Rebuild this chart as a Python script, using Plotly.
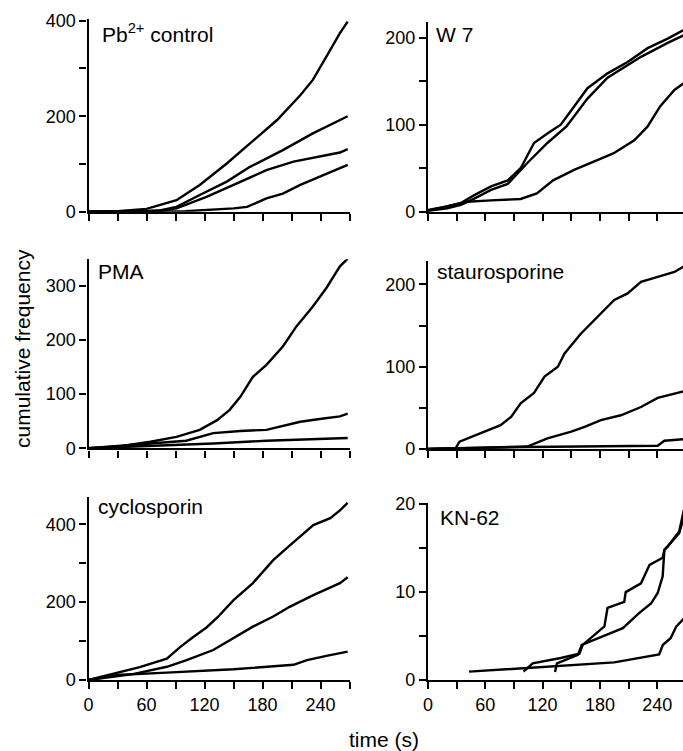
import plotly.graph_objects as go

# ---------------- data ----------------
panel_titles = ["Pb<sup>2+</sup> control", "W 7", "PMA", "staurosporine", "cyclosporin", "KN-62"]

x_tickvals = [0, 30, 60, 90, 120, 150, 180, 210, 240, 270]
x_ticktext = ["0", "", "60", "", "120", "", "180", "", "240", ""]

# Pb2+ control
pb_t1 = [0, 8, 30, 60, 91, 115, 143, 167, 195, 219, 232, 246, 260, 268]
pb_v1 = [0, 0, 1, 6, 24, 56, 101, 143, 192, 244, 276, 325, 374, 398]
pb_t2 = [0, 60, 75, 91, 115, 143, 167, 201, 232, 260, 268]
pb_v2 = [0, 1, 3, 10, 35, 63, 94, 129, 164, 192, 200]
pb_t3 = [0, 60, 75, 91, 122, 150, 184, 212, 239, 260, 268]
pb_v3 = [0, 1, 2, 7, 31, 56, 87, 105, 115, 124, 131]
pb_t4 = [0, 100, 150, 164, 184, 201, 219, 239, 260, 268]
pb_v4 = [0, 1, 7, 10, 28, 38, 56, 73, 91, 98]

# W 7
w7_t1 = [0, 20, 34.5, 48.5, 66, 83.5, 97, 111, 125, 139, 153, 167, 188, 209, 230, 251, 268]
w7_v1 = [2, 6, 10, 19, 29, 36, 50, 79, 90, 100, 121, 142, 159, 172, 188, 199, 209]
w7_t2 = [0, 20, 34.5, 48.5, 66, 83.5, 104, 125, 145, 167, 188, 223, 251, 268]
w7_v2 = [1, 4, 8, 15, 25, 32, 56, 79, 98, 130, 154, 178, 194, 203]
w7_t3 = [0, 20, 41.5, 66, 97, 114, 131, 153, 173, 194, 216, 230, 243, 258, 268]
w7_v3 = [1, 6, 11.5, 13, 14.6, 21, 36, 48, 57, 67, 82, 98, 121, 140, 148]

# PMA
pma_t1 = [0, 33, 64, 91, 115, 133, 146, 157, 170, 184, 201, 215, 232, 246, 260, 268]
pma_v1 = [0, 4, 12, 21, 34, 52, 71, 95, 132, 154, 188, 225, 262, 296, 336, 350]
pma_t2 = [0, 64, 101, 129, 157, 184, 198, 219, 239, 260, 268]
pma_v2 = [0, 9, 14, 28, 32, 34, 40, 49, 54, 59, 64]
pma_t3 = [0, 64, 101, 129, 184, 239, 268]
pma_v3 = [0, 4, 6, 9, 14, 18, 19]

# staurosporine
st_t1 = [0, 29, 33, 55.5, 76, 87, 97, 111, 122, 136, 143, 160, 178, 195, 209, 223, 240.5, 258, 268]
st_v1 = [0, 1, 9, 19, 29, 39, 55.5, 68, 88, 100, 116, 140, 161, 181, 189, 203, 209, 215, 222]
st_t2 = [0, 104, 125, 150, 164, 181, 202, 223, 240.5, 268]
st_v2 = [0, 3, 13, 21, 27, 35, 41, 51, 62, 70]
st_t3 = [0, 104, 240.5, 247.5, 268]
st_v3 = [0, 2.5, 4, 10, 12]

# cyclosporin
cy_t1 = [0, 29, 53, 81, 95, 108, 122, 133, 150, 170, 191, 205, 219, 232.5, 250, 260, 268]
cy_v1 = [0, 17, 33, 55, 85, 110, 135, 160, 205, 249, 308, 339, 368, 398, 416, 436, 455]
cy_t2 = [0, 46, 81, 101.5, 129, 150, 170, 191, 208, 232.5, 260, 268]
cy_v2 = [0, 15, 34, 51, 77, 107, 137, 163, 188, 218, 249, 264]
cy_t3 = [0, 29, 81, 150, 212, 226, 246, 260, 268]
cy_v3 = [0, 13, 19, 27.5, 39, 51, 62, 69, 73]

# KN-62
kn_t1 = [43, 195, 242, 246, 254, 260, 268]
kn_v1 = [0.95, 2.0, 2.9, 4.0, 4.75, 6.1, 7.0]
kn_t2 = [100, 109.6, 139, 158.5, 162, 172, 184.7, 188, 205.5, 207, 223, 232, 245.7, 247.5, 251, 263, 268]
kn_v2 = [0.95, 1.9, 2.5, 3.0, 4.0, 4.9, 6.1, 8.2, 8.9, 10, 11, 13.1, 13.9, 14.8, 15.2, 16.7, 18.6]
kn_t3 = [133, 135, 157, 161, 204, 221, 233.5, 240.5, 245.7, 247.5, 251, 263, 268]
kn_v3 = [0.9, 1.9, 2.85, 4, 5.9, 7.6, 8.7, 9.9, 11.8, 14.8, 15.2, 16.9, 19.4]

panels = [
    [(pb_t1, pb_v1), (pb_t2, pb_v2), (pb_t3, pb_v3), (pb_t4, pb_v4)],
    [(w7_t1, w7_v1), (w7_t2, w7_v2), (w7_t3, w7_v3)],
    [(pma_t1, pma_v1), (pma_t2, pma_v2), (pma_t3, pma_v3)],
    [(st_t1, st_v1), (st_t2, st_v2), (st_t3, st_v3)],
    [(cy_t1, cy_v1), (cy_t2, cy_v2), (cy_t3, cy_v3)],
    [(kn_t1, kn_v1), (kn_t2, kn_v2), (kn_t3, kn_v3)],
]

y_tickvals = [
    [0, 100, 200, 300, 400],
    [0, 50, 100, 150, 200],
    [0, 100, 200, 300],
    [0, 50, 100, 150, 200],
    [0, 100, 200, 300, 400],
    [0, 5, 10, 15, 20],
]
y_ticktext = [
    ["0", "", "200", "", "400"],
    ["0", "", "100", "", "200"],
    ["0", "100", "200", "300"],
    ["0", "", "100", "", "200"],
    ["0", "", "200", "", "400"],
    ["0", "", "10", "", "20"],
]

# ---------------- layout geometry (pixels) ----------------
W, H = 683, 751
col_geom = [(88.5, 349.6, 270), (428.0, 683.0, 267)]
panel_y = [
    (211.7, 19.0, 403.6),
    (211.7, 21.7, 218.4),
    (448.3, 259.3, 349.0),
    (449.0, 260.7, 228.7),
    (680.0, 496.7, 471.0),
    (680.0, 503.3, 20.1),
]
title_pos = [(100, 33), (434, 34), (96, 271.5), (435, 271), (96, 506), (438, 517)]

FONT = "Arial, Liberation Sans, sans-serif"

fig = go.Figure()
layout = dict(
    width=W, height=H,
    margin=dict(l=0, r=0, t=0, b=0),
    paper_bgcolor="white", plot_bgcolor="white",
    showlegend=False,
    font=dict(family=FONT, color="black", size=18),
)
annotations = []
for i, series in enumerate(panels):
    n = i + 1
    col = i % 2
    x0, x1, xmax = col_geom[col]
    yb, yt, ymax = panel_y[i]
    xname = "x" if n == 1 else f"x{n}"
    yname = "y" if n == 1 else f"y{n}"
    for (t, v) in series:
        fig.add_trace(go.Scatter(x=t, y=v, mode="lines", xaxis=xname, yaxis=yname,
                                 line=dict(color="black", width=2.4), hoverinfo="skip"))
    bottom_row = i >= 4
    layout["xaxis" if n == 1 else f"xaxis{n}"] = dict(
        domain=[x0 / W, min(x1 / W, 1.0)], range=[0, xmax], anchor=yname,
        showline=True, linecolor="black", linewidth=2.4,
        ticks="outside", ticklen=7, tickwidth=2.2, tickcolor="black",
        tickvals=x_tickvals,
        ticktext=x_ticktext if bottom_row else [""] * len(x_tickvals),
        tickfont=dict(size=18, family=FONT, color="black"),
        showgrid=False, zeroline=False, automargin=False,
    )
    layout["yaxis" if n == 1 else f"yaxis{n}"] = dict(
        domain=[1 - yb / H, 1 - yt / H], range=[0, ymax], anchor=xname,
        showline=True, linecolor="black", linewidth=2.4,
        ticks="outside", ticklen=7, tickwidth=2.2, tickcolor="black",
        tickvals=y_tickvals[i], ticktext=y_ticktext[i],
        tickfont=dict(size=18, family=FONT, color="black"),
        showgrid=False, zeroline=False, automargin=False,
    )
    tx, ty = title_pos[i]
    annotations.append(dict(text=panel_titles[i], x=tx / W, y=1 - ty / H,
                            xref="paper", yref="paper", xanchor="left", yanchor="middle",
                            showarrow=False, font=dict(size=21, family=FONT, color="black")))

annotations.append(dict(text="cumulative frequency", x=22 / W, y=1 - 349 / H, xref="paper", yref="paper",
                        textangle=-90, showarrow=False, xanchor="center", yanchor="middle",
                        font=dict(size=21, family=FONT, color="black")))
annotations.append(dict(text="time (s)", x=384 / W, y=1 - 739 / H, xref="paper", yref="paper",
                        showarrow=False, xanchor="center", yanchor="middle",
                        font=dict(size=21, family=FONT, color="black")))
layout["annotations"] = annotations
fig.update_layout(**layout)
fig.write_html("out.html")
